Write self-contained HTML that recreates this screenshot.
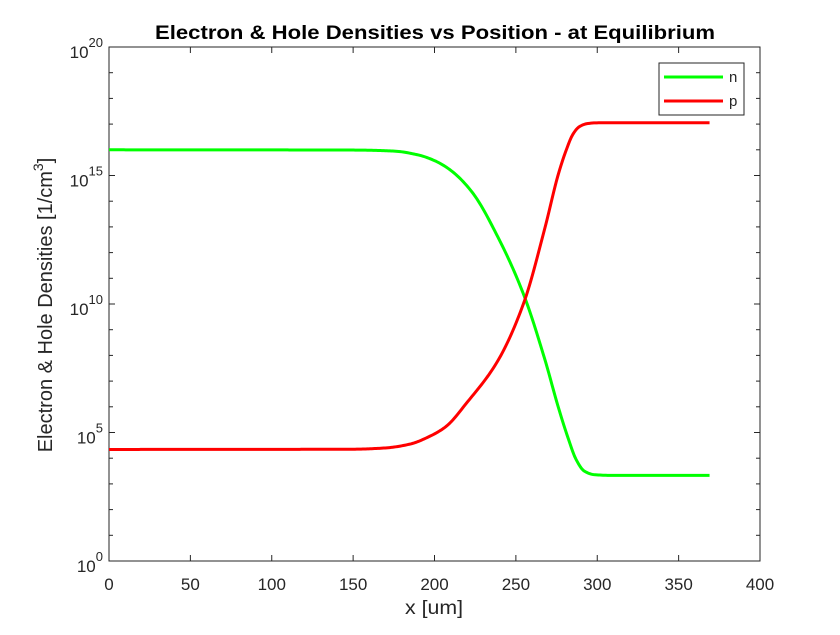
<!DOCTYPE html>
<html><head><meta charset="utf-8"><style>
body{margin:0;background:#fff;}
svg text{font-family:"Liberation Sans",Arial,sans-serif;fill:#262626;}
</style></head><body>
<svg id="chart" width="840" height="630" xmlns="http://www.w3.org/2000/svg">
<rect x="0" y="0" width="840" height="630" fill="#fff"/>
<g id="axes"></g>
<g id="series"></g>
<text x="435" y="39" text-anchor="middle" font-size="19" font-weight="bold" textLength="560" lengthAdjust="spacingAndGlyphs" style="fill:#000">Electron &amp; Hole Densities vs Position - at Equilibrium</text>
<text x="434" y="614" text-anchor="middle" font-size="19" textLength="58" lengthAdjust="spacingAndGlyphs">x [um]</text>
<text transform="translate(52,305) rotate(-90)" text-anchor="middle" font-size="20">Electron &amp; Hole Densities [1/cm<tspan dy="-9" font-size="14">3</tspan><tspan dy="9">]</tspan></text>
<g>
<rect x="659" y="63" width="85" height="52" fill="#fff" stroke="#262626" stroke-width="1"/>
<line x1="664" y1="77" x2="723" y2="77" stroke="#00ff00" stroke-width="3"/>
<text x="729" y="82" font-size="15">n</text>
<line x1="664" y1="101" x2="723" y2="101" stroke="#ff0000" stroke-width="3"/>
<text x="729" y="106" font-size="15">p</text>
</g>
</svg>
<script>
const xTicks = [0, 50, 100, 150, 200, 250, 300, 350, 400];
const yTickExps = [0, 5, 10, 15, 20];
const nX = [0, 150, 175, 190, 200, 210, 223, 239, 255, 268, 276, 282, 287, 292, 298, 310, 369];
const nLog = [16.0, 15.99, 15.95, 15.8, 15.58, 15.2, 14.36, 12.6, 10.33, 7.8, 6.0, 4.8, 3.95, 3.5, 3.36, 3.33, 3.33];
const pX = [0, 150, 170, 185, 197, 207, 220, 239, 255, 268, 276, 281, 285, 289, 294, 300, 369];
const pLog = [4.34, 4.35, 4.4, 4.55, 4.85, 5.23, 6.17, 7.8, 10.07, 13.0, 15.03, 16.0, 16.6, 16.9, 17.02, 17.05, 17.05];

const L=109,R=760,T=47,B=561;
const xs=v=>L+(v-0)/(400-0)*(R-L);
const ys=e=>B-(e-0)/(20-0)*(B-T);
const NS="http://www.w3.org/2000/svg";
const ax=document.getElementById('axes'), se=document.getElementById('series');
function mk(tag,attrs,parent){const e=document.createElementNS(NS,tag);for(const k in attrs)e.setAttribute(k,attrs[k]);parent.appendChild(e);return e;}
const box=mk('rect',{x:L,y:T,width:R-L,height:B-T,fill:'none',stroke:'#262626','stroke-width':1},ax);


xTicks.forEach(v=>{
  const x=xs(v);
  mk('line',{x1:x,y1:B,x2:x,y2:B-6,stroke:'#262626'},ax);
  mk('line',{x1:x,y1:T,x2:x,y2:T+6,stroke:'#262626'},ax);
  const t=mk('text',{x:x,y:B+29,'text-anchor':'middle','font-size':17},ax);
  t.textContent=v;
  
  
});
for(let e=0;e<=20;e++){
  const y=ys(e), len=yTickExps.includes(e)?6:4;
  mk('line',{x1:L,y1:y,x2:L+len,y2:y,stroke:'#262626'},ax);
  mk('line',{x1:R,y1:y,x2:R-len,y2:y,stroke:'#262626'},ax);
}
yTickExps.forEach(e=>{
  const y=ys(e);
  const t=mk('text',{x:L-6,y:y+11,'text-anchor':'end','font-size':17},ax);
  
  
  const a=mk('tspan',{},t);a.textContent='10';
  const b=mk('tspan',{dy:-11,'font-size':13},t);b.textContent=String(e);
});
// monotone cubic (Fritsch-Carlson) interpolation, sampled densely
function monotone(X,Y){
  const n=X.length,d=[],m=new Array(n);
  for(let i=0;i<n-1;i++)d.push((Y[i+1]-Y[i])/(X[i+1]-X[i]));
  m[0]=d[0];m[n-1]=d[n-2];
  for(let i=1;i<n-1;i++){
    if(d[i-1]*d[i]<=0)m[i]=0;
    else{const h0=X[i]-X[i-1],h1=X[i+1]-X[i];const w1=2*h1+h0,w2=h1+2*h0;m[i]=(w1+w2)/(w1/d[i-1]+w2/d[i]);}
  }
  return x=>{
    let i=0;while(i<n-2&&x>X[i+1])i++;
    const h=X[i+1]-X[i],t=(x-X[i])/h,t2=t*t,t3=t2*t;
    return (2*t3-3*t2+1)*Y[i]+(t3-2*t2+t)*h*m[i]+(-2*t3+3*t2)*Y[i+1]+(t3-t2)*h*m[i+1];
  };
}
function pathFor(X,Y){
  const f=monotone(X,Y);const x0=X[0],x1=X[X.length-1];let d='';
  for(let k=0;k<=400;k++){const x=x0+(x1-x0)*k/400;d+=(k?' L':'M')+xs(x).toFixed(2)+','+ys(f(x)).toFixed(2);}
  return d;
}
const ln=mk('path',{d:pathFor(nX,nLog),fill:'none',stroke:'#00ff00','stroke-width':3,'stroke-linejoin':'round'},se);


const lp=mk('path',{d:pathFor(pX,pLog),fill:'none',stroke:'#ff0000','stroke-width':3,'stroke-linejoin':'round'},se);


</script>
</body></html>
